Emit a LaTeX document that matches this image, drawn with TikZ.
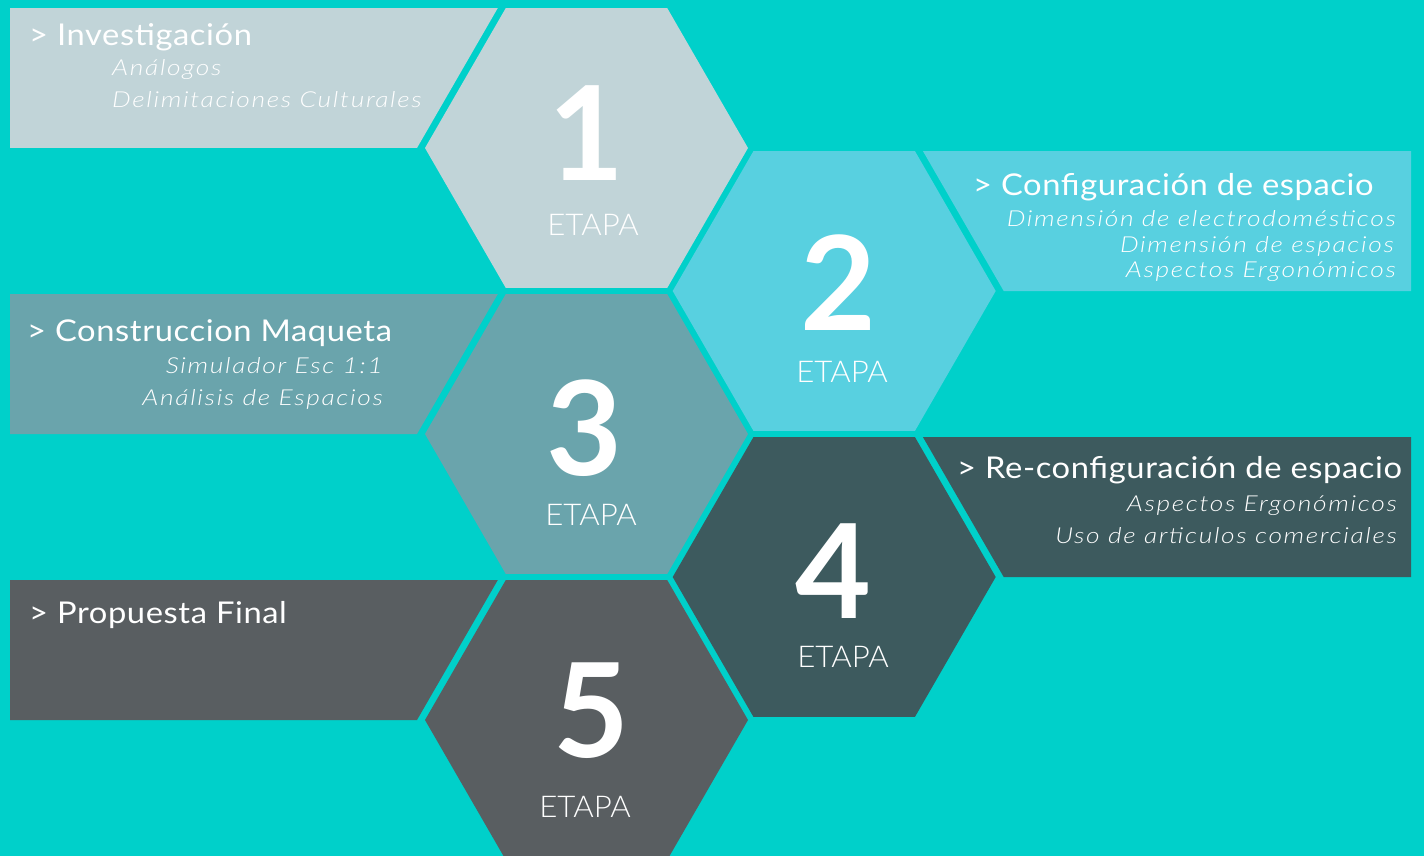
\documentclass[tikz,border=0pt]{standalone}
\usepackage{fontspec}
\setmainfont{Lato}
\newfontfamily\titlefont{Lato}[FakeStretch=1.09, LetterSpace=2]
\newfontfamily\subfont{Lato Light Italic}[FakeStretch=1.2, LetterSpace=7.5]
\newfontfamily\etapafont{Lato Light}[FakeStretch=1.04]
\definecolor{bg}{RGB}{0,208,202}
\definecolor{c1}{RGB}{193,212,216}
\definecolor{c2}{RGB}{88,208,224}
\definecolor{c3}{RGB}{106,164,172}
\definecolor{c4}{RGB}{61,90,94}
\definecolor{c5}{RGB}{89,94,97}
\tikzset{
  title/.style={text=white, inner sep=0pt, font=\titlefont\fontsize{30}{32}\selectfont},
  sub/.style={text=white, inner sep=0pt, font=\subfont\fontsize{22}{24}\selectfont},
  digit/.style={text=white, inner sep=0pt, anchor=base, font=\bfseries\fontsize{131}{131}\selectfont},
  etapa/.style={text=white, inner sep=0pt, anchor=base, font=\etapafont\fontsize{30}{32}\selectfont},
}
% hexagon geometry: circumradius, apothem, gap to the side panels
\def\R{161.5}
\def\A{139.9}
\def\G{8}
% #1 name, #2 cx, #3 cy, #4 colour, #5 digit, #6 digit x, #7 digit baseline, #8 label x, #9 label baseline
\newcommand\hexcell[9]{%
  \fill[#4] ({#2+\R},#3) -- ({#2+\R/2},{#3+\A}) -- ({#2-\R/2},{#3+\A})
    -- ({#2-\R},#3) -- ({#2-\R/2},{#3-\A}) -- ({#2+\R/2},{#3-\A}) -- cycle;
  \node[digit] (d#1) at (#6,#7) {#5};
  \node[etapa] (e#1) at (#8,#9) {ETAPA};
}
% panel to the left of a hexagon
\newcommand\leftpanel[3]{%
  \fill[#3] (10,{#2-\A}) -- ({#1-\R/2-\G},{#2-\A}) -- ({#1-\R-\G},#2) -- (10,#2) -- cycle;
}
% panel to the right of a hexagon
\newcommand\rightpanel[3]{%
  \fill[#3] ({#1+\R/2+\G},{#2-\A}) -- (1411,{#2-\A}) -- (1411,#2) -- ({#1+\R+\G},#2) -- cycle;
}
\begin{document}
\begin{tikzpicture}[x=1pt,y=-1pt]
\useasboundingbox (0,0) rectangle (1424,856);
\fill[bg] (0,0) rectangle (1424,856);

\leftpanel{586.5}{148}{c1}
\rightpanel{834.2}{291}{c2}
\leftpanel{586.5}{434}{c3}
\rightpanel{834.2}{577}{c4}
\leftpanel{586.5}{720}{c5}

\hexcell{1}{586.5}{148}{c1}{1}{586}{180}{593}{235}
\hexcell{2}{834.2}{291}{c2}{2}{838}{330}{842}{382}
\hexcell{3}{586.5}{434}{c3}{3}{584}{475}{591}{525}
\hexcell{4}{834.2}{577}{c4}{4}{833}{618}{843}{667}
\hexcell{5}{586.5}{720}{c5}{5}{591}{757}{585}{817}

% stage 1
\node[title, anchor=base west] (t1) at (29,46) {> Investigación};
\node[sub, anchor=base west] (s1a) at (112,76) {Análogos};
\node[sub, anchor=base west] (s1b) at (112,108) {Delimitaciones Culturales};
% stage 2
\node[title, anchor=base west] (t2) at (973,195) {> Configuración de espacio};
\node[sub, anchor=base east] (s2a) at (1396,226) {Dimensión de electrodomésticos};
\node[sub, anchor=base east] (s2b) at (1394,252) {Dimensión de espacios};
\node[sub, anchor=base east] (s2c) at (1396,277) {Aspectos Ergonómicos};
% stage 3
\node[title, anchor=base west] (t3) at (27,341) {> Construccion Maqueta};
\node[sub, anchor=base east] (s3a) at (383,373) {Simulador Esc 1:1};
\node[sub, anchor=base east] (s3b) at (383,405) {Análisis de Espacios};
% stage 4
\node[title, anchor=base west] (t4) at (957,478) {> Re-configuración de espacio};
\node[sub, anchor=base east] (s4a) at (1397,511) {Aspectos Ergonómicos};
\node[sub, anchor=base east] (s4b) at (1397,543) {Uso de articulos comerciales};
% stage 5
\node[title, anchor=base west] (t5) at (29,623) {> Propuesta Final};
\end{tikzpicture}
\end{document}
